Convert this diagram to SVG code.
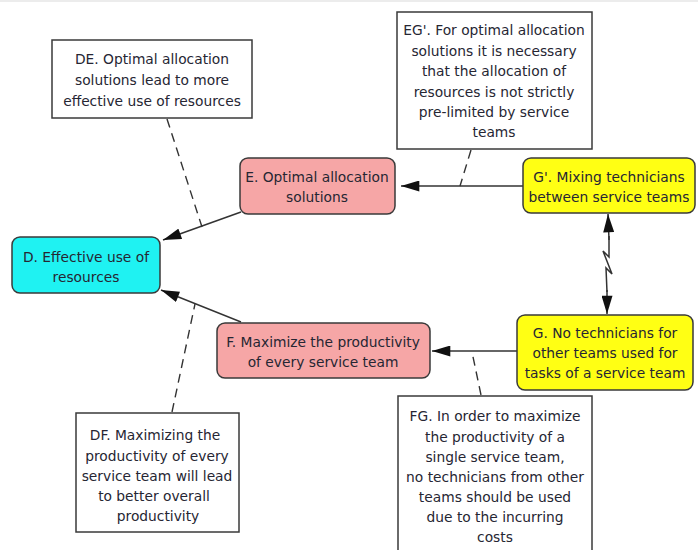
<svg xmlns="http://www.w3.org/2000/svg" width="698" height="550" viewBox="0 0 698 550">
  <defs>
    <marker id="arrow" viewBox="0 0 20 12" refX="20" refY="6" markerWidth="19" markerHeight="11" markerUnits="userSpaceOnUse" orient="auto">
      <path d="M0,0 L20,6 L0,12 Z" fill="#111111"/>
    </marker>
    <style>
      .node { stroke: #3a3a3a; stroke-width: 1.5; }
      .note { fill: #ffffff; stroke: #3a3a3a; stroke-width: 1.5; }
      .cyan { fill: #1ff2f2; }
      .pink { fill: #f6a6a6; }
      .yellow { fill: #ffff14; }
      text { font-family: "DejaVu Sans", Verdana, sans-serif; font-size: 13.8px; fill: #262633; text-anchor: middle; }
      .link { stroke: #333333; stroke-width: 1.5; fill: none; }
      .dash { stroke: #333333; stroke-width: 1.4; fill: none; stroke-dasharray: 9 6; }
    </style>
  </defs>

  <rect width="698" height="550" fill="#ffffff"/>
  <line x1="0" y1="1" x2="698" y2="1" stroke="#ececec" stroke-width="2"/>

  <!-- connectors -->
  <g id="connectors">
    <line class="link" x1="523" y1="186" x2="401" y2="186" marker-end="url(#arrow)"/>
    <line class="link" x1="517" y1="351" x2="432" y2="351" marker-end="url(#arrow)"/>
    <line class="link" x1="241" y1="212" x2="163" y2="240" marker-end="url(#arrow)"/>
    <line class="link" x1="241" y1="322" x2="161" y2="290" marker-end="url(#arrow)"/>
    <!-- conflict bolt -->
    <polyline class="link" points="609,236 609,257 603,251 612,274 606,268 607,292"/>
    <line class="link" x1="609" y1="240" x2="608" y2="214" marker-end="url(#arrow)"/>
    <line class="link" x1="607" y1="290" x2="607" y2="314" marker-end="url(#arrow)"/>
    <!-- assumption links -->
    <line class="dash" x1="167" y1="119" x2="202" y2="227"/>
    <line class="dash" x1="471" y1="150" x2="460" y2="186"/>
    <line class="dash" x1="481" y1="395" x2="472" y2="352"/>
    <line class="dash" x1="172" y1="412" x2="195" y2="304"/>
  </g>

  <g id="DE">
    <rect class="note" x="52" y="40" width="200" height="78"/>
    <text x="152" y="64">DE. Optimal allocation</text>
    <text x="152" y="85">solutions lead to more</text>
    <text x="152" y="106">effective use of resources</text>
  </g>

  <g id="EGp">
    <rect class="note" x="397" y="12" width="195" height="137"/>
    <text x="494" y="35">EG'. For optimal allocation</text>
    <text x="494" y="56">solutions it is necessary</text>
    <text x="494" y="76">that the allocation of</text>
    <text x="494" y="97">resources is not strictly</text>
    <text x="494" y="117">pre-limited by service</text>
    <text x="494" y="137">teams</text>
  </g>

  <g id="D">
    <rect class="node cyan" x="12" y="237" width="148" height="56" rx="8"/>
    <text x="86" y="262">D. Effective use of</text>
    <text x="86" y="282">resources</text>
  </g>

  <g id="E">
    <rect class="node pink" x="240" y="158" width="155" height="56" rx="8"/>
    <text x="317" y="182">E. Optimal allocation</text>
    <text x="317" y="202">solutions</text>
  </g>

  <g id="Gp">
    <rect class="node yellow" x="523" y="158" width="172" height="55" rx="8"/>
    <text x="609" y="182">G'. Mixing technicians</text>
    <text x="609" y="202">between service teams</text>
  </g>

  <g id="F">
    <rect class="node pink" x="217" y="323" width="213" height="55" rx="8"/>
    <text x="323" y="347">F. Maximize the productivity</text>
    <text x="323" y="367">of every service team</text>
  </g>

  <g id="G">
    <rect class="node yellow" x="517" y="315" width="176" height="75" rx="8"/>
    <text x="605" y="338">G. No technicians for</text>
    <text x="605" y="358">other teams used for</text>
    <text x="605" y="378">tasks of a service team</text>
  </g>

  <g id="DF">
    <rect class="note" x="76" y="413" width="163" height="119"/>
    <text x="155" y="440">DF. Maximizing the</text>
    <text x="157" y="461">productivity of every</text>
    <text x="157" y="481">service team will lead</text>
    <text x="154" y="501">to better overall</text>
    <text x="158" y="521">productivity</text>
  </g>

  <g id="FG">
    <rect class="note" x="398" y="396" width="194" height="160"/>
    <text x="495" y="421">FG. In order to maximize</text>
    <text x="495" y="442">the productivity of a</text>
    <text x="495" y="462">single service team,</text>
    <text x="495" y="482">no technicians from other</text>
    <text x="495" y="502">teams should be used</text>
    <text x="495" y="522">due to the incurring</text>
    <text x="495" y="542">costs</text>
  </g>
</svg>
